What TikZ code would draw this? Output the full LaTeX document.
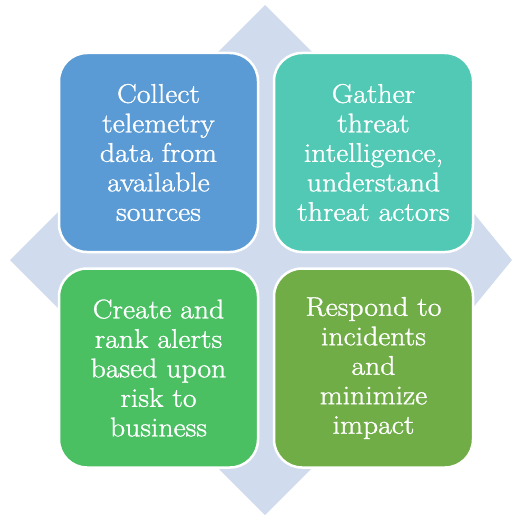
\documentclass[tikz,border=0pt]{standalone}
\usepackage{fontspec}
\newfontfamily\quadfont[FakeBold=1.2,FakeStretch=1.1]{Latin Modern Roman}
\begin{document}
\begin{tikzpicture}[x=1pt,y=-1pt,
  quad/.style={draw=white, line width=2.5pt, rounded corners=28pt,
    minimum width=199pt, minimum height=199pt, inner sep=0pt,
    text=white, align=center, font=\quadfont\fontsize{27}{29.5}\selectfont}]
\definecolor{diam}{HTML}{D0DCEE}
\definecolor{cblue}{HTML}{5B9BD5}
\definecolor{cteal}{HTML}{52C9B5}
\definecolor{cgreen}{HTML}{4AC063}
\definecolor{colive}{HTML}{70AD47}
\useasboundingbox (0,0) rectangle (512,516);
\clip (0,0) rectangle (512,516);
\fill[diam] (265,5) -- (476,216) -- (512,260) -- (476,304) -- (265,515) -- (10,260) -- cycle;
\node[quad, fill=cblue] (tl) at (158.5,152.5) {Collect\\telemetry\\data from\\available\\sources};
\node[quad, fill=cteal] (tr) at (373.5,152.5) {Gather\\threat\\intelligence,\\understand\\threat actors};
\node[quad, fill=cgreen] (bl) at (158.5,368) {Create and\\rank alerts\\based upon\\risk to\\business};
\node[quad, fill=colive] (br) at (373.5,368) {Respond to\\incidents\\and\\minimize\\impact};
\end{tikzpicture}
\end{document}
